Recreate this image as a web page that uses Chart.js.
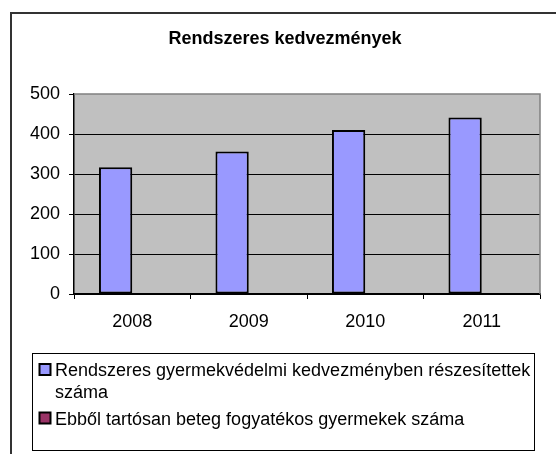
<!DOCTYPE html>
<html>
<head>
<meta charset="utf-8">
<script src="https://cdn.jsdelivr.net/npm/chart.js@4"></script>
<style>
  html, body { margin: 0; padding: 0; background: #fff; }
  #wrap { position: relative; width: 556px; height: 454px; }
</style>
</head>
<body>
<div id="wrap"><canvas id="kedvezmenyek" width="556" height="454"></canvas></div>
<script>
var categories = ['2008', '2009', '2010', '2011'];
var kedvezmenyben = [317, 356, 410, 441];
var tartosanBeteg = [null, null, null, null];
var seriesLabels = [
    'Rendszeres gyermekvédelmi kedvezményben részesítettek száma',
    'Ebből tartósan beteg fogyatékos gyermekek száma'
];
var chartTitle = 'Rendszeres kedvezmények';
var yMin = 0, yMax = 500, yStep = 100;

var FONT = 'Arial, "Liberation Sans", sans-serif';

// frame, plot background, title and the wrapped legend box
var excelLook = {
    id: 'excelLook',
    beforeDraw: function (chart) {
        var c = chart.ctx, a = chart.chartArea;
        c.save();
        c.fillStyle = '#c0c0c0';
        c.fillRect(a.left, a.top, a.right - a.left, a.bottom - a.top);
        c.restore();
    },
    afterDraw: function (chart) {
        var c = chart.ctx, a = chart.chartArea;
        c.save();
        // plot border (top / right)
        c.strokeStyle = '#808080';
        c.lineWidth = 1.5;
        c.beginPath();
        c.moveTo(a.left, a.top);
        c.lineTo(a.right, a.top);
        c.lineTo(a.right, a.bottom);
        c.stroke();

        // outer frame
        c.strokeStyle = '#333';
        c.lineWidth = 2;
        c.beginPath();
        c.moveTo(11, 454);
        c.lineTo(11, 13);
        c.lineTo(556, 13);
        c.stroke();

        // title
        c.fillStyle = '#000';
        c.font = 'bold 18px ' + FONT;
        c.textAlign = 'center';
        c.textBaseline = 'alphabetic';
        c.fillText(chartTitle, 285, 44);

        // legend
        var lx = 32.5, ly = 353.5, lw = 502, lh = 97;
        c.strokeStyle = '#000';
        c.lineWidth = 1;
        c.strokeRect(lx, ly, lw, lh);
        c.font = '18px ' + FONT;
        c.textAlign = 'left';
        var textX = 55, maxW = lx + lw - textX;
        var y = 376, lineH = 21.5;
        chart.data.datasets.forEach(function (ds) {
            c.fillStyle = ds.backgroundColor;
            c.fillRect(39.5, y - 12, 11, 11);
            c.strokeStyle = '#000';
            c.lineWidth = 2;
            c.strokeRect(39.5, y - 12, 11, 11);
            var words = ds.label.split(' '), line = '';
            c.fillStyle = '#000';
            words.forEach(function (w) {
                var test = line ? line + ' ' + w : w;
                if (c.measureText(test).width > maxW && line) {
                    c.fillText(line, textX, y);
                    line = w;
                    y += lineH;
                } else {
                    line = test;
                }
            });
            c.fillText(line, textX, y);
            y += 27;
        });
        c.restore();
    }
};

var ctx = document.getElementById('kedvezmenyek');
var myChart = new Chart(ctx, {
    type: 'bar',
    data: {
        labels: categories,
        datasets: [{
            label: seriesLabels[0],
            data: kedvezmenyben,
            backgroundColor: '#9999ff',
            borderColor: '#000',
            borderWidth: 2,
            borderSkipped: false
        }, {
            label: seriesLabels[1],
            data: tartosanBeteg,
            backgroundColor: '#993366',
            borderColor: '#000',
            borderWidth: 2,
            borderSkipped: false
        }]
    },
    options: {
        responsive: false,
        animation: false,
        devicePixelRatio: 1,
        layout: { padding: { left: 10, right: 16, top: 94, bottom: 120 } },
        datasets: { bar: { categoryPercentage: 2 / 3.5, barPercentage: 1 } },
        plugins: {
            legend: { display: false },
            title: { display: false },
            tooltip: { enabled: false }
        },
        scales: {
            x: {
                afterFit: function (s) { s.height = 40; },
                grid: {
                    offset: true,
                    drawOnChartArea: false,
                    color: '#000',
                    tickLength: 5,
                    tickColor: '#000'
                },
                border: { color: '#000', width: 1.5 },
                ticks: { color: '#000', font: { family: FONT, size: 18 }, padding: 12, maxRotation: 0 }
            },
            y: {
                min: yMin,
                max: yMax,
                afterFit: function (s) { s.width = 64; },
                grid: {
                    color: function (c) { return c.tick.value === yMax ? 'rgba(0,0,0,0)' : '#000'; },
                    tickColor: '#000',
                    tickLength: 5
                },
                border: { color: '#000', width: 1.5 },
                ticks: { stepSize: yStep, color: '#000', font: { family: FONT, size: 18 }, padding: 9 }
            }
        }
    },
    plugins: [excelLook]
});
</script>
</body>
</html>
